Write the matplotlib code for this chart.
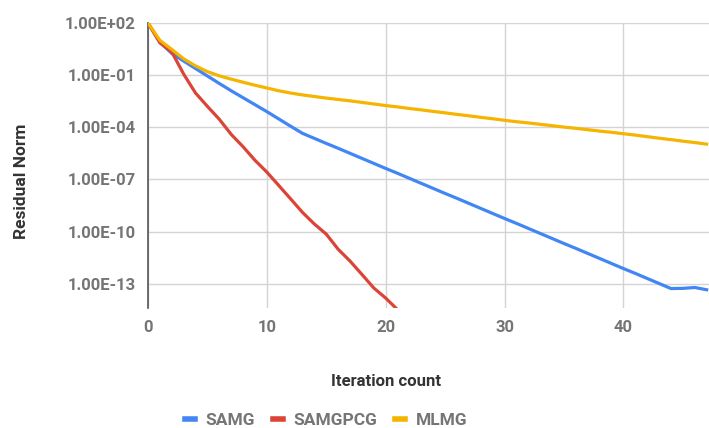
import numpy as np
import matplotlib
matplotlib.use("Agg")
import matplotlib.pyplot as plt

# iteration counts
iters = list(range(48))
samgpcg_iters = list(range(22))

# log10 of residual norm
samg_log = [2.0, 0.9, 0.25, -0.19, -0.62, -1.05, -1.48, -1.9, -2.3, -2.7,
            -3.1, -3.52, -3.94, -4.35, -4.64, -4.93, -5.21, -5.5, -5.79, -6.08,
            -6.37, -6.65, -6.94, -7.23, -7.52, -7.81, -8.09, -8.38, -8.67, -8.96,
            -9.25, -9.53, -9.82, -10.11, -10.4, -10.69, -10.97, -11.26, -11.55, -11.84,
            -12.13, -12.41, -12.7, -12.99, -13.28, -13.27, -13.22, -13.35]
samgpcg_log = [2.0, 0.86, 0.33, -0.94, -2.03, -2.8, -3.54, -4.41, -5.12, -5.9,
               -6.58, -7.35, -8.12, -8.9, -9.57, -10.15, -11.02, -11.7, -12.47, -13.25,
               -13.83, -14.5]
mlmg_log = [2.0, 1.0, 0.48, -0.06, -0.47, -0.8, -1.04, -1.23, -1.41, -1.58,
            -1.74, -1.9, -2.03, -2.14, -2.23, -2.32, -2.4, -2.48, -2.57, -2.66,
            -2.75, -2.83, -2.92, -3.0, -3.09, -3.17, -3.26, -3.34, -3.43, -3.51,
            -3.6, -3.68, -3.75, -3.83, -3.91, -3.99, -4.06, -4.14, -4.22, -4.29,
            -4.37, -4.45, -4.54, -4.63, -4.71, -4.8, -4.88, -4.97]

yticks = [1e2, 1e-1, 1e-4, 1e-7, 1e-10, 1e-13]
ytick_labels = ["1.00E+02", "1.00E-01", "1.00E-04", "1.00E-07", "1.00E-10", "1.00E-13"]
xticks = [0, 10, 20, 30, 40]

plt.rcParams['font.family'] = ['Roboto', 'DejaVu Sans']

W, H = 709, 428
fig = plt.figure(figsize=(W/100, H/100), dpi=100)
ax = fig.add_axes([148/W, 1-308/H, (W-148)/W, (308-23)/H])

lw = 2.3
ax.plot(iters, 10**np.array(samg_log), color='#4285F4', lw=lw, label='SAMG', zorder=3)
ax.plot(samgpcg_iters, 10**np.array(samgpcg_log), color='#DB4437', lw=lw, label='SAMGPCG', zorder=4)
ax.plot(iters, 10**np.array(mlmg_log), color='#F4B400', lw=lw, label='MLMG', zorder=5)

ax.set_yscale('log')
ax.set_ylim(10**-14.4, 10**2)
ax.set_xlim(0, 47.2)
ax.set_yticks(yticks)
ax.set_yticklabels(ytick_labels)
ax.minorticks_off()
ax.set_xticks(xticks)
ax.grid(True, color='#d4d4d4', lw=1.0)
ax.set_axisbelow(True)
for s in ['top', 'right', 'bottom']:
    ax.spines[s].set_visible(False)
ax.spines['left'].set_color('#555555')
ax.spines['left'].set_linewidth(1.2)
ax.tick_params(length=0, colors='#757575', labelsize=12)
ax.tick_params(axis='y', pad=9)
ax.tick_params(axis='x', pad=9)
for lab in ax.get_xticklabels() + ax.get_yticklabels():
    lab.set_fontweight('bold')

fig.text(386/W, 1-381/H, 'Iteration count', ha='center', va='center',
         fontsize=12, fontweight='bold', color='#333333')
fig.text(22/W, 1-181/H, 'Residual Norm', ha='center', va='center', rotation=90,
         fontsize=12.5, fontweight='bold', color='#333333')

leg = fig.legend(loc='center', bbox_to_anchor=(326/W, 1-420/H), ncol=3, frameon=False,
                 handlelength=0.6, handletextpad=0.6, columnspacing=1.0,
                 prop={'size': 12.5, 'weight': 'bold'})
for t in leg.get_texts():
    t.set_color('#757575')
for h in leg.get_lines():
    h.set_linewidth(4)

fig.savefig('out.png', dpi=100)
